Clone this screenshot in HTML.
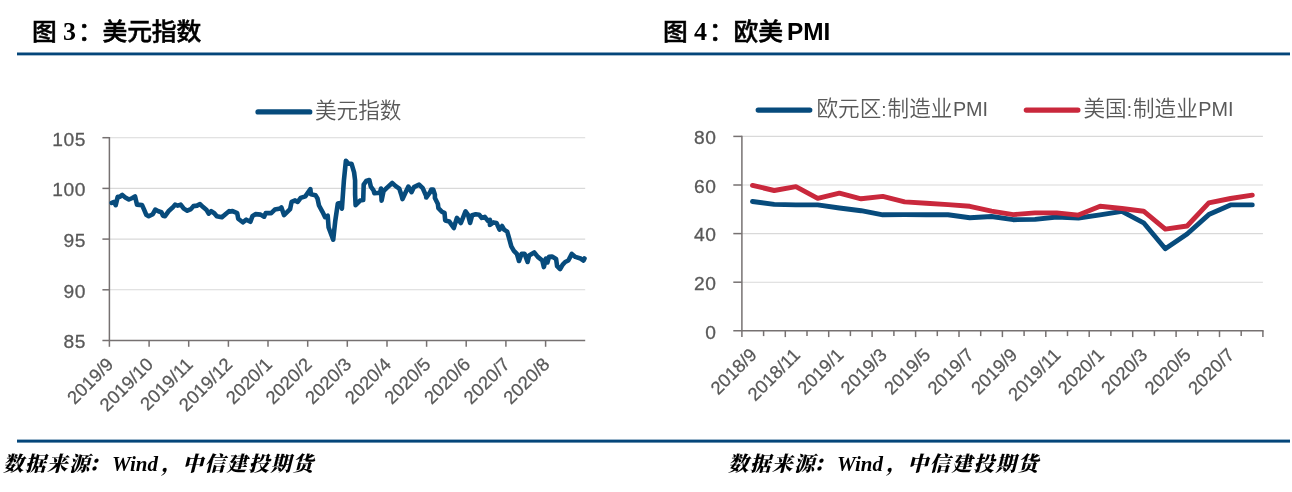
<!DOCTYPE html>
<html lang="zh-CN">
<head>
<meta charset="utf-8">
<title>图3 美元指数 / 图4 欧美PMI</title>
<style>
html,body{margin:0;padding:0;background:#fff;}
body{width:1292px;height:492px;position:relative;overflow:hidden;font-family:"Liberation Sans","Noto Sans CJK SC",sans-serif;}
.title{position:absolute;top:13.5px;left:0;height:36px;line-height:36px;font-size:24px;font-weight:700;color:#000;white-space:nowrap;font-family:"Liberation Sans","Noto Sans CJK SC",sans-serif;}
.title span{position:absolute;top:0;}
.title .cj{font-size:23.6px;letter-spacing:-0.17px;font-weight:500;-webkit-text-stroke:0.5px #000;transform:scaleX(1.05);transform-origin:0 50%;}
.title .lat{font-size:24.4px;}
.title .num{font-size:26px;font-family:"Liberation Serif","Noto Serif CJK SC",serif;font-weight:700;}
.src{position:absolute;top:448px;height:32px;line-height:32px;font-size:20.6px;letter-spacing:1.4px;font-weight:900;font-style:italic;color:#000;white-space:nowrap;font-family:"Liberation Mono","Noto Serif CJK SC",serif;}
.src .w{font-family:"Liberation Serif",serif;font-size:21px;font-weight:700;letter-spacing:0;margin-left:-1px;margin-right:5px;}
.src .k{margin-left:-3px;margin-right:3px;}
.src .c{margin-left:-1.5px;margin-right:-0.8px;}
</style>
</head>
<body>
<div class="title"><span class="cj" style="left:32px">图</span><span class="num" style="left:63px">3</span><span class="cj" style="left:77.5px">：美元指数</span></div>
<div class="title"><span class="cj" style="left:663px">图</span><span class="num" style="left:694px">4</span><span class="cj" style="left:708.5px">：欧美</span><span class="lat" style="left:787px">PMI</span></div>
<svg width="1292" height="492" viewBox="0 0 1292 492" style="position:absolute;left:0;top:0">
<rect x="17" y="52.5" width="1273" height="2.85" fill="#04467a"/>
<rect x="17" y="439.6" width="1273" height="3" fill="#04467a"/>
<g stroke="#d9d9d9" stroke-width="1.1" fill="none">
<line x1="109.4" y1="137.7" x2="585.2" y2="137.7"/>
<line x1="109.4" y1="188.4" x2="585.2" y2="188.4"/>
<line x1="109.4" y1="239.1" x2="585.2" y2="239.1"/>
<line x1="109.4" y1="289.8" x2="585.2" y2="289.8"/>
</g>
<g stroke="#767171" stroke-width="1.5" fill="none">
<line x1="109.4" y1="137.0" x2="109.4" y2="346.8"/>
<line x1="102.4" y1="340.5" x2="585.2" y2="340.5"/>
<line x1="102.4" y1="137.7" x2="109.4" y2="137.7"/>
<line x1="102.4" y1="188.4" x2="109.4" y2="188.4"/>
<line x1="102.4" y1="239.1" x2="109.4" y2="239.1"/>
<line x1="102.4" y1="289.8" x2="109.4" y2="289.8"/>
<line x1="149.1" y1="340.5" x2="149.1" y2="346.8"/>
<line x1="188.7" y1="340.5" x2="188.7" y2="346.8"/>
<line x1="228.4" y1="340.5" x2="228.4" y2="346.8"/>
<line x1="268.0" y1="340.5" x2="268.0" y2="346.8"/>
<line x1="307.7" y1="340.5" x2="307.7" y2="346.8"/>
<line x1="347.3" y1="340.5" x2="347.3" y2="346.8"/>
<line x1="387.0" y1="340.5" x2="387.0" y2="346.8"/>
<line x1="426.6" y1="340.5" x2="426.6" y2="346.8"/>
<line x1="466.2" y1="340.5" x2="466.2" y2="346.8"/>
<line x1="505.9" y1="340.5" x2="505.9" y2="346.8"/>
<line x1="545.6" y1="340.5" x2="545.6" y2="346.8"/>
</g>
<path d="M111.7 202.9 L114.1 202.0 L115.7 205.1 L117.7 196.9 L119.7 196.9 L122.3 194.9 L125.3 197.4 L128.9 199.5 L132.4 198.0 L135.0 196.4 L136.0 200.5 L137.0 204.6 L142.1 205.1 L144.1 209.6 L146.2 214.7 L148.7 216.2 L152.8 214.2 L155.3 209.6 L158.4 211.2 L161.4 212.2 L162.9 215.7 L165.0 216.2 L169.0 210.7 L172.6 207.6 L175.1 204.6 L177.7 205.6 L180.7 204.6 L183.8 208.6 L187.3 210.7 L190.9 209.1 L193.4 206.1 L197.0 205.6 L200.0 204.1 L203.1 207.1 L206.6 210.1 L208.7 213.7 L211.2 211.2 L214.3 213.2 L216.8 216.2 L221.9 217.3 L226.0 213.7 L229.0 211.2 L229.1 211.6 L232.6 211.1 L237.2 213.1 L238.2 218.7 L242.8 222.3 L246.3 219.7 L250.4 221.8 L252.4 216.2 L255.5 214.1 L260.6 214.6 L264.1 216.7 L265.7 213.1 L271.2 213.1 L274.8 209.6 L280.4 208.5 L281.4 207.5 L284.0 215.1 L290.1 209.1 L291.6 201.9 L295.1 200.4 L297.7 201.9 L300.7 197.9 L305.3 196.3 L310.4 189.2 L310.9 194.3 L315.5 195.3 L317.5 198.4 L319.0 205.5 L322.6 212.1 L325.1 217.2 L327.7 215.7 L328.6 227.5 L333.2 239.7 L335.2 221.4 L337.8 203.6 L340.3 203.1 L341.9 208.7 L343.9 180.5 L345.9 160.7 L348.5 163.7 L351.5 163.7 L354.1 172.4 L355.1 180.5 L355.1 194.7 L355.6 205.2 L360.1 200.6 L363.2 200.1 L363.7 184.6 L366.2 181.0 L369.3 180.0 L370.8 186.6 L373.4 190.1 L374.4 193.2 L380.0 192.7 L381.0 188.6 L381.6 200.6 L383.5 191.2 L387.1 187.6 L392.2 183.0 L395.7 186.1 L399.3 188.6 L401.3 194.7 L402.5 199.1 L405.4 192.7 L408.4 186.6 L411.5 192.2 L414.0 187.1 L419.1 184.6 L422.7 188.1 L426.2 196.2 L426.2 197.5 L429.8 192.7 L431.3 189.6 L433.3 189.6 L434.9 194.7 L434.9 198.0 L437.9 204.1 L438.4 208.2 L442.0 211.8 L444.5 212.8 L445.2 220.4 L449.2 221.4 L453.8 228.0 L456.9 217.9 L460.9 223.0 L465.5 211.3 L468.0 214.8 L470.1 223.0 L472.1 215.3 L475.7 214.3 L479.2 214.8 L481.8 217.9 L484.8 216.9 L487.9 220.9 L489.9 219.9 L489.9 225.0 L493.4 222.4 L496.5 223.0 L499.5 229.6 L502.1 226.0 L504.1 229.6 L507.2 231.6 L509.2 238.7 L511.3 246.3 L513.9 250.8 L516.9 253.9 L519.0 261.0 L521.5 253.9 L524.6 253.9 L527.6 262.0 L529.1 255.4 L534.2 252.4 L537.8 256.9 L542.3 260.5 L543.9 267.1 L545.9 258.5 L547.4 262.5 L549.0 256.9 L552.0 256.6 L556.1 259.0 L557.1 266.1 L560.1 269.1 L562.7 264.6 L565.2 262.0 L568.3 260.5 L571.8 253.9 L575.4 256.9 L580.5 258.5 L583.5 260.5 L584.5 258.5" fill="none" stroke="#074b7c" stroke-width="4.6" stroke-linejoin="round" stroke-linecap="round"/>
<g font-family="'Liberation Sans', sans-serif" font-size="19.2" fill="#595959" stroke="#595959" stroke-width="0.3" text-anchor="end" letter-spacing="0.55">
<text x="85.9" y="145.5">105</text>
<text x="85.9" y="196.2">100</text>
<text x="85.9" y="246.9">95</text>
<text x="85.9" y="297.6">90</text>
<text x="85.9" y="348.3">85</text>
</g>
<g font-family="'Liberation Sans', sans-serif" font-size="18.4" fill="#595959" stroke="#595959" stroke-width="0.25" text-anchor="end">
<text transform="translate(114.6 365.5) rotate(-45)">2019/9</text>
<text transform="translate(154.2 365.5) rotate(-45)">2019/10</text>
<text transform="translate(193.9 365.5) rotate(-45)">2019/11</text>
<text transform="translate(233.6 365.5) rotate(-45)">2019/12</text>
<text transform="translate(273.2 365.5) rotate(-45)">2020/1</text>
<text transform="translate(312.9 365.5) rotate(-45)">2020/2</text>
<text transform="translate(352.5 365.5) rotate(-45)">2020/3</text>
<text transform="translate(392.2 365.5) rotate(-45)">2020/4</text>
<text transform="translate(431.8 365.5) rotate(-45)">2020/5</text>
<text transform="translate(471.4 365.5) rotate(-45)">2020/6</text>
<text transform="translate(511.1 365.5) rotate(-45)">2020/7</text>
<text transform="translate(550.8 365.5) rotate(-45)">2020/8</text>
</g>
<line x1="258" y1="111.9" x2="309.8" y2="111.9" stroke="#074b7c" stroke-width="5.2" stroke-linecap="round"/>
<text x="315" y="117.6" font-family="'Liberation Sans', 'Noto Sans CJK SC', sans-serif" font-weight="350" font-size="21.6" fill="#595959">美元指数</text>
<g stroke="#d9d9d9" stroke-width="1.1" fill="none">
<line x1="741.9" y1="136.4" x2="1262.9" y2="136.4"/>
<line x1="741.9" y1="185.0" x2="1262.9" y2="185.0"/>
<line x1="741.9" y1="233.6" x2="1262.9" y2="233.6"/>
<line x1="741.9" y1="282.2" x2="1262.9" y2="282.2"/>
</g>
<g stroke="#767171" stroke-width="1.5" fill="none">
<line x1="741.9" y1="135.7" x2="741.9" y2="337.1"/>
<line x1="733.3" y1="330.8" x2="1263.6" y2="330.8"/>
<line x1="733.3" y1="136.4" x2="741.9" y2="136.4"/>
<line x1="733.3" y1="185.0" x2="741.9" y2="185.0"/>
<line x1="733.3" y1="233.6" x2="741.9" y2="233.6"/>
<line x1="733.3" y1="282.2" x2="741.9" y2="282.2"/>
<line x1="763.6" y1="330.8" x2="763.6" y2="336.1"/>
<line x1="785.3" y1="330.8" x2="785.3" y2="337.1"/>
<line x1="807.0" y1="330.8" x2="807.0" y2="336.1"/>
<line x1="828.7" y1="330.8" x2="828.7" y2="337.1"/>
<line x1="850.4" y1="330.8" x2="850.4" y2="336.1"/>
<line x1="872.1" y1="330.8" x2="872.1" y2="337.1"/>
<line x1="893.9" y1="330.8" x2="893.9" y2="336.1"/>
<line x1="915.6" y1="330.8" x2="915.6" y2="337.1"/>
<line x1="937.3" y1="330.8" x2="937.3" y2="336.1"/>
<line x1="959.0" y1="330.8" x2="959.0" y2="337.1"/>
<line x1="980.7" y1="330.8" x2="980.7" y2="336.1"/>
<line x1="1002.4" y1="330.8" x2="1002.4" y2="337.1"/>
<line x1="1024.1" y1="330.8" x2="1024.1" y2="336.1"/>
<line x1="1045.8" y1="330.8" x2="1045.8" y2="337.1"/>
<line x1="1067.5" y1="330.8" x2="1067.5" y2="336.1"/>
<line x1="1089.2" y1="330.8" x2="1089.2" y2="337.1"/>
<line x1="1110.9" y1="330.8" x2="1110.9" y2="336.1"/>
<line x1="1132.7" y1="330.8" x2="1132.7" y2="337.1"/>
<line x1="1154.4" y1="330.8" x2="1154.4" y2="336.1"/>
<line x1="1176.1" y1="330.8" x2="1176.1" y2="337.1"/>
<line x1="1197.8" y1="330.8" x2="1197.8" y2="336.1"/>
<line x1="1219.5" y1="330.8" x2="1219.5" y2="337.1"/>
<line x1="1241.2" y1="330.8" x2="1241.2" y2="336.1"/>
<line x1="1262.9" y1="330.8" x2="1262.9" y2="337.1"/>
</g>
<path d="M752.5 201.5 L774.2 204.4 L795.9 204.9 L817.7 204.9 L839.4 208.0 L861.1 210.7 L882.8 214.8 L904.6 214.6 L926.3 214.8 L948.0 214.8 L969.8 217.7 L991.5 216.5 L1013.2 219.7 L1035.0 219.4 L1056.7 217.0 L1078.4 218.0 L1100.1 214.8 L1121.9 211.4 L1143.6 222.8 L1165.3 248.8 L1187.1 234.0 L1208.8 214.6 L1230.5 204.9 L1252.3 204.9" fill="none" stroke="#074b7c" stroke-width="4.9" stroke-linejoin="round" stroke-linecap="round"/>
<path d="M752.5 185.4 L774.2 190.5 L795.9 186.6 L817.7 198.3 L839.4 193.2 L861.1 198.8 L882.8 196.4 L904.6 201.9 L926.3 203.2 L948.0 204.6 L969.8 206.3 L991.5 211.2 L1013.2 214.6 L1035.0 212.9 L1056.7 212.9 L1078.4 215.1 L1100.1 206.3 L1121.9 208.5 L1143.6 211.2 L1165.3 229.1 L1187.1 226.0 L1208.8 202.9 L1230.5 198.5 L1252.3 195.1" fill="none" stroke="#c9283c" stroke-width="4.9" stroke-linejoin="round" stroke-linecap="round"/>
<g font-family="'Liberation Sans', sans-serif" font-size="19.2" fill="#595959" stroke="#595959" stroke-width="0.3" text-anchor="end" letter-spacing="0.55">
<text x="716.4" y="144.2">80</text>
<text x="716.4" y="192.8">60</text>
<text x="716.4" y="241.4">40</text>
<text x="716.4" y="290.0">20</text>
<text x="716.4" y="338.6">0</text>
</g>
<g font-family="'Liberation Sans', sans-serif" font-size="18.4" fill="#595959" stroke="#595959" stroke-width="0.25" text-anchor="end">
<text transform="translate(757.9 355.9) rotate(-45)">2018/9</text>
<text transform="translate(801.3 355.9) rotate(-45)">2018/11</text>
<text transform="translate(844.7 355.9) rotate(-45)">2019/1</text>
<text transform="translate(888.1 355.9) rotate(-45)">2019/3</text>
<text transform="translate(931.5 355.9) rotate(-45)">2019/5</text>
<text transform="translate(974.9 355.9) rotate(-45)">2019/7</text>
<text transform="translate(1018.4 355.9) rotate(-45)">2019/9</text>
<text transform="translate(1061.8 355.9) rotate(-45)">2019/11</text>
<text transform="translate(1105.2 355.9) rotate(-45)">2020/1</text>
<text transform="translate(1148.6 355.9) rotate(-45)">2020/3</text>
<text transform="translate(1192.0 355.9) rotate(-45)">2020/5</text>
<text transform="translate(1235.4 355.9) rotate(-45)">2020/7</text>
</g>
<line x1="758.2" y1="110.1" x2="809.8" y2="110.1" stroke="#074b7c" stroke-width="5.2" stroke-linecap="round"/>
<text x="816.5" y="116" font-family="'Liberation Sans', 'Noto Sans CJK SC', sans-serif" font-weight="350" font-size="21.6" fill="#595959">欧元区<tspan font-size="19">:</tspan><tspan dx="1">制造业</tspan><tspan font-size="19.8" font-weight="400" dx="0.5">PMI</tspan></text>
<line x1="1026.3" y1="110.1" x2="1077.9" y2="110.1" stroke="#c9283c" stroke-width="5.2" stroke-linecap="round"/>
<text x="1083.5" y="116" font-family="'Liberation Sans', 'Noto Sans CJK SC', sans-serif" font-weight="350" font-size="21.6" fill="#595959">美国<tspan font-size="19">:</tspan><tspan dx="1">制造业</tspan><tspan font-size="19.8" font-weight="400" dx="0.5">PMI</tspan></text>
</svg>
<div class="src" style="left:3px">数据来源<span class="k">：</span><span class="w">Wind</span><span class="c">，</span>中信建投期货</div>
<div class="src" style="left:728px">数据来源<span class="k">：</span><span class="w">Wind</span><span class="c">，</span>中信建投期货</div>
</body>
</html>
